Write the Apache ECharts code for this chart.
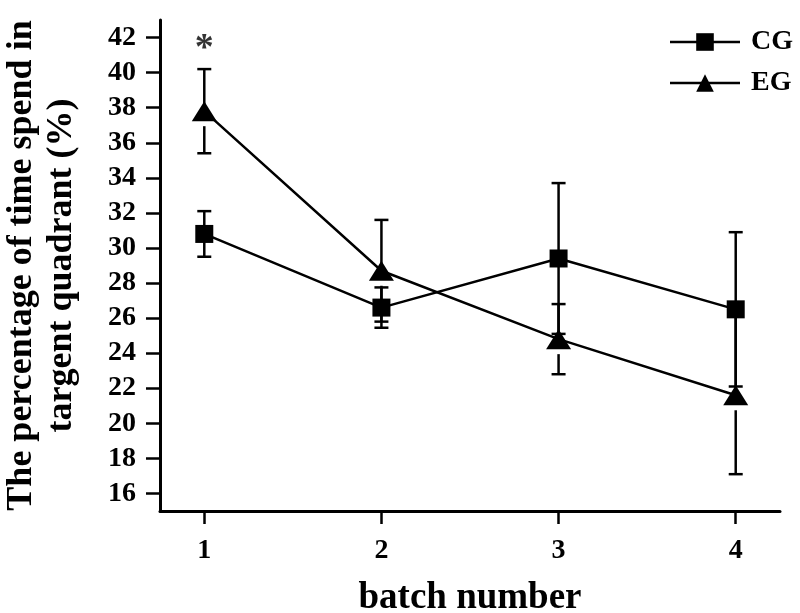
<!DOCTYPE html>
<html>
<head>
<meta charset="utf-8">
<script src="https://cdn.jsdelivr.net/npm/echarts@6/dist/echarts.min.js"></script>
<style>
  html, body { margin: 0; background: #fff; }
  #chart { width: 800px; height: 613px; }
</style>
</head>
<body>
<div id="chart"></div>
<script>
// batch numbers on the x axis
const batches = [1, 2, 3, 4];

// CG: mean and error
const cgMean = [30.8, 26.6, 29.4, 26.5];
const cgErr = [1.3, 1.15, 4.3, 4.4];

// EG: mean and error
const egMean = [37.8, 28.7, 24.8, 21.6];
const egErr = [2.4, 2.9, 2.0, 4.5];

// tick labels
const xTicks = [1, 2, 3, 4];
const yTicks = [16, 18, 20, 22, 24, 26, 28, 30, 32, 34, 36, 38, 40, 42];

// significance mark above batch 1
const sigMarks = [[1, 41.6]];

const font = 'Liberation Serif';
const black = '#000';

// error bars as a custom series (drawn under the lines and symbols)
function errorBars(means, errs, gapBelow) {
  return {
    type: 'custom',
    z: 1,
    silent: true,
    data: batches.map((b, i) => [b, means[i] - errs[i], means[i] + errs[i], means[i]]),
    renderItem: (params, api) => {
      const x = api.value(0);
      const lo = api.coord([x, api.value(1)]);
      const hi = api.coord([x, api.value(2)]);
      const mid = api.coord([x, api.value(3)]);
      const half = 7;
      const style = { stroke: black, lineWidth: 2.5 };
      return {
        type: 'group',
        children: [
          { type: 'line', shape: { x1: hi[0], y1: hi[1], x2: mid[0], y2: mid[1] }, style },
          { type: 'line', shape: { x1: mid[0], y1: mid[1] + gapBelow, x2: lo[0], y2: lo[1] }, style },
          { type: 'line', shape: { x1: hi[0] - half, y1: hi[1], x2: hi[0] + half, y2: hi[1] }, style },
          { type: 'line', shape: { x1: lo[0] - half, y1: lo[1], x2: lo[0] + half, y2: lo[1] }, style }
        ]
      };
    }
  };
}

const chart = echarts.init(document.getElementById('chart'));

chart.setOption({
  animation: false,
  backgroundColor: '#fff',
  textStyle: { fontFamily: font, fontWeight: 'bold', color: black },

  grid: { left: 160, right: 20, top: 20, bottom: 102, outerBoundsMode: 'none' },

  legend: {
    data: ['CG', 'EG'],
    orient: 'vertical',
    right: 2,
    top: 23,
    itemWidth: 70,
    itemHeight: 22,
    itemGap: 13,
    textStyle: { fontFamily: font, fontWeight: 'bold', fontSize: 28, color: black, padding: [0, 0, 0, 6] },
    lineStyle: { width: 2.5 }
  },

  xAxis: {
    type: 'value',
    min: 0.75,
    max: 4.25,
    name: 'batch number',
    nameLocation: 'middle',
    nameGap: 69,
    nameTextStyle: { fontFamily: font, fontWeight: 'bold', fontSize: 37, color: black },
    splitLine: { show: false },
    axisLine: { lineStyle: { color: black, width: 3 } },
    axisTick: { customValues: xTicks, length: 13, lineStyle: { width: 2.5, color: black } },
    axisLabel: {
      customValues: xTicks,
      margin: 26,
      fontFamily: font, fontWeight: 'bold', fontSize: 28, color: black
    }
  },

  yAxis: {
    type: 'value',
    min: 15,
    max: 43,
    name: 'The percentage of time spend in\ntargent quadrant (%)',
    nameLocation: 'middle',
    nameGap: 78,
    nameTextStyle: { fontFamily: font, fontWeight: 'bold', fontSize: 36, lineHeight: 40, color: black },
    splitLine: { show: false },
    axisLine: { show: true, lineStyle: { color: black, width: 3 } },
    axisTick: { show: true, customValues: yTicks, length: 14, lineStyle: { width: 2.5, color: black } },
    axisLabel: {
      customValues: yTicks,
      margin: 24,
      fontFamily: font, fontWeight: 'bold', fontSize: 28, color: black
    }
  },

  series: [
    errorBars(cgMean, cgErr, 0),
    errorBars(egMean, egErr, 15),
    {
      name: 'CG',
      type: 'line',
      z: 3,
      data: batches.map((b, i) => [b, cgMean[i]]),
      symbol: 'rect',
      symbolSize: 18,
      itemStyle: { color: black },
      lineStyle: { color: black, width: 2.5 }
    },
    {
      name: 'EG',
      type: 'line',
      z: 3,
      data: batches.map((b, i) => [b, egMean[i]]),
      symbol: 'triangle',
      symbolSize: [25, 20],
      itemStyle: { color: black },
      lineStyle: { color: black, width: 2.5 }
    },
    {
      name: 'sig',
      type: 'scatter',
      z: 4,
      data: sigMarks,
      symbolSize: 1,
      itemStyle: { color: 'rgba(0,0,0,0)' },
      label: {
        show: true,
        position: 'inside',
        formatter: '*',
        fontFamily: font,
        fontWeight: 'bold',
        fontSize: 38,
        color: black,
        offset: [0, 5]
      }
    }
  ]
});
</script>
</body>
</html>
